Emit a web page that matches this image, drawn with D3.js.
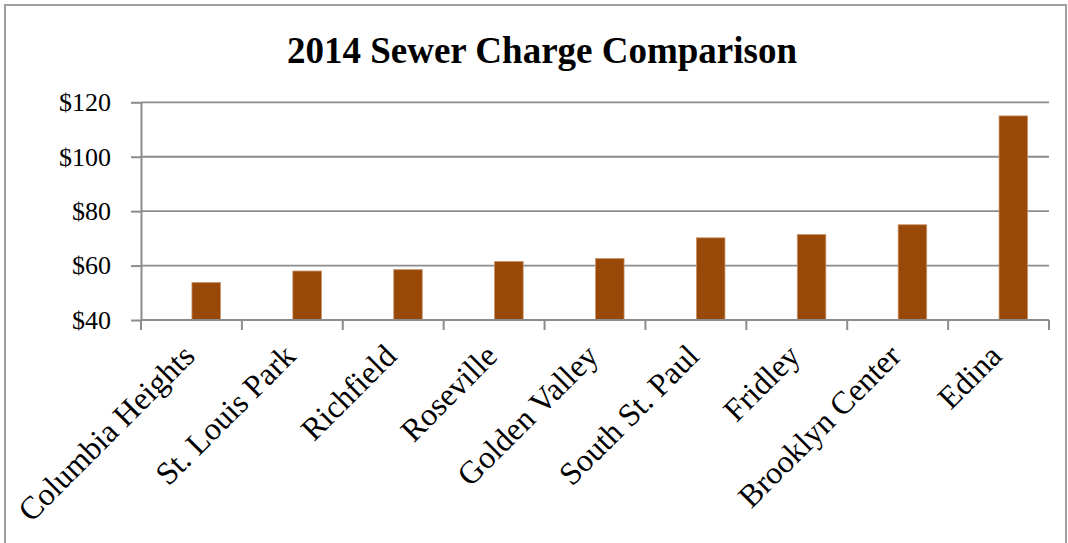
<!DOCTYPE html>
<html>
<head>
<meta charset="utf-8">
<script src="https://cdn.jsdelivr.net/npm/d3@7"></script>
<style>
  body { margin: 0; background: #fff; }
  svg text { font-family: "Liberation Serif", "Times New Roman", serif; fill: #000; }
  .yLabels text { font-size: 26px; }
  .xLabels text { font-size: 32px; }
  .domain, .tick line { stroke: #8c8c8c; stroke-width: 2; }
</style>
</head>
<body>
<div class="chart_container"></div>
<script>
var width = 1068
var height = 543

var cities = ["Columbia Heights", "St. Louis Park", "Richfield", "Roseville", "Golden Valley",
              "South St. Paul", "Fridley", "Brooklyn Center", "Edina"]
var charges = [53.8, 58.0, 58.5, 61.5, 62.6, 70.2, 71.4, 75.0, 115.0]
var yTicks = [40, 60, 80, 100, 120]

var plotLeft = 141, plotRight = 1049, plotTop = 102.3, plotBottom = 320

var svg = d3.select(".chart_container").append("svg")
                             .attr("width", width)
                             .attr("height", height);

// chart box outline (no bottom edge in the picture)
svg.append("path")
  .attr("d", "M5,543 V5 H1066 V543")
  .style("fill", "none")
  .style("stroke", "#a0a0a0")
  .style("stroke-width", 2);

svg.append("text")
  .attr("x", 542)
  .attr("y", 63)
  .style("text-anchor", "middle")
  .style("font-size", "37px")
  .style("font-weight", "bold")
  .text("2014 Sewer Charge Comparison");

var scaleX = d3.scaleBand()
               .domain(cities)
               .range([plotLeft, plotRight])
               .padding(0);

var scaleY = d3.scaleLinear()
               .domain([40, 120])
               .range([plotBottom, plotTop]);

// gridlines
svg.append("g")
  .selectAll("line")
  .data(yTicks.slice(1))
  .enter()
  .append("line")
  .attr("x1", plotLeft)
  .attr("x2", plotRight)
  .attr("y1", function(d) { return scaleY(d); })
  .attr("y2", function(d) { return scaleY(d); })
  .style("stroke", "#8c8c8c")
  .style("stroke-width", 1.8);

var bw = scaleX.bandwidth();

svg.append("g")
  .selectAll("rect")
  .data(charges)
  .enter()
  .append("rect")
  .attr("x", function(d, i) { return scaleX(cities[i]) + bw * 0.505; })
  .attr("width", bw * 0.283)
  .attr("y", function(d) { return scaleY(d); })
  .attr("height", function(d) { return plotBottom - scaleY(d); })
  .style("fill", "#984807")
  .style("stroke", "#c9946a")
  .style("stroke-width", 0.8);

var axisLeft = d3.axisLeft(scaleY)
                 .tickValues(yTicks)
                 .tickFormat(function(d) { return "$" + d; })
                 .tickSizeInner(10)
                 .tickSizeOuter(0)
                 .tickPadding(20);

svg.append("g")
  .attr("class", "yLabels")
  .attr("transform", "translate(" + plotLeft + ",0)")
  .call(axisLeft);

// x axis: ticks on the band edges, labels drawn separately
var edges = cities.map(function(c) { return scaleX(c); }).concat([plotRight]);

svg.append("line")
  .attr("x1", plotLeft).attr("x2", plotRight)
  .attr("y1", plotBottom).attr("y2", plotBottom)
  .style("stroke", "#8c8c8c")
  .style("stroke-width", 2);

svg.append("g")
  .selectAll("line")
  .data(edges)
  .enter()
  .append("line")
  .attr("x1", function(d) { return d; })
  .attr("x2", function(d) { return d; })
  .attr("y1", plotBottom)
  .attr("y2", plotBottom + 10)
  .style("stroke", "#8c8c8c")
  .style("stroke-width", 2);

svg.append("g")
  .attr("class", "xLabels")
  .selectAll("text")
  .data(cities)
  .enter()
  .append("text")
  .attr("transform", function(d) {
    return "translate(" + (scaleX(d) + bw / 2 + 5) + "," + 358 + ") rotate(-45)";
  })
  .style("text-anchor", "end")
  .text(function(d) { return d; });
</script>
</body>
</html>
